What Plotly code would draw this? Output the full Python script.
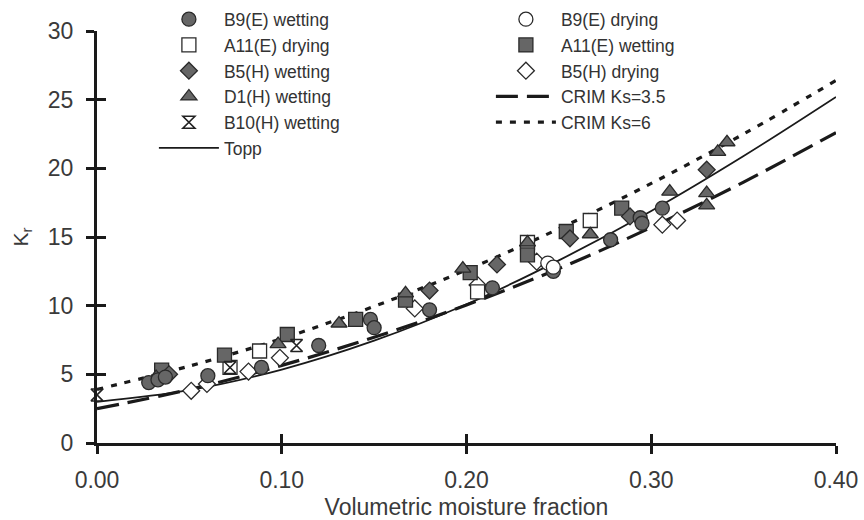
import plotly.graph_objects as go

# ---- model curves ----
curve_x = [0.00, 0.05, 0.10, 0.15, 0.20, 0.25, 0.30, 0.35, 0.40]
topp_k = [3.0, 3.85, 5.35, 7.45, 10.1, 13.3, 16.9, 20.9, 25.2]
crim35_k = [2.5, 3.9, 5.65, 7.7, 10.05, 12.7, 15.7, 19.0, 22.6]
crim6_k = [3.9, 5.6, 7.6, 9.95, 12.6, 15.6, 18.9, 22.5, 26.4]

# ---- measured data ----
b9e_wet_x = [0.028, 0.033, 0.037, 0.060, 0.089, 0.120, 0.148, 0.150, 0.180, 0.214, 0.247, 0.278, 0.294, 0.295, 0.306]
b9e_wet_k = [4.4, 4.6, 4.8, 4.9, 5.5, 7.1, 9.0, 8.4, 9.7, 11.3, 12.5, 14.8, 16.4, 16.0, 17.1]

b9e_dry_x = [0.244, 0.247]
b9e_dry_k = [13.1, 12.8]

a11e_dry_x = [0.072, 0.088, 0.206, 0.233, 0.267]
a11e_dry_k = [5.5, 6.7, 11.0, 14.6, 16.2]

a11e_wet_x = [0.035, 0.069, 0.103, 0.140, 0.167, 0.202, 0.233, 0.254, 0.284]
a11e_wet_k = [5.3, 6.4, 7.9, 9.0, 10.4, 12.4, 13.7, 15.4, 17.1]

b5h_wet_x = [0.039, 0.180, 0.2165, 0.256, 0.2885, 0.330]
b5h_wet_k = [5.0, 11.1, 13.0, 14.9, 16.5, 19.9]

b5h_dry_x = [0.051, 0.0595, 0.082, 0.099, 0.172, 0.206, 0.238, 0.306, 0.314]
b5h_dry_k = [3.8, 4.3, 5.2, 6.2, 9.8, 11.5, 13.2, 15.9, 16.2]

d1h_wet_x = [0.032, 0.098, 0.131, 0.167, 0.198, 0.233, 0.267, 0.310, 0.330, 0.330, 0.336, 0.341]
d1h_wet_k = [4.8, 7.2, 8.7, 10.9, 12.7, 14.6, 15.2, 18.3, 18.2, 17.3, 21.2, 21.9]

b10h_wet_x = [0.000, 0.072, 0.108]
b10h_wet_k = [3.5, 5.5, 7.1]

x_ticks = [0.0, 0.1, 0.2, 0.3, 0.4]
x_ticklabels = ["0.00", "0.10", "0.20", "0.30", "0.40"]
y_ticks = [0, 5, 10, 15, 20, 25, 30]

DARK = "#666666"
EDGE = "#2a2a2a"
AXC = "#1a1a1a"
TXT = "#3a3a3a"
FONT = "Liberation Sans, Arial, sans-serif"

fig = go.Figure()

# curves (drawn first, behind markers)
fig.add_trace(go.Scatter(x=curve_x, y=crim6_k, mode="lines", name="CRIM Ks=6",
                         line=dict(color=AXC, width=3.2, dash="6px,8px", shape="spline"),
                         legendrank=10))
fig.add_trace(go.Scatter(x=curve_x, y=crim35_k, mode="lines", name="CRIM Ks=3.5",
                         line=dict(color=AXC, width=3.2, dash="22px,9px", shape="spline"),
                         legendrank=8))
fig.add_trace(go.Scatter(x=curve_x, y=topp_k, mode="lines", name="Topp",
                         line=dict(color=AXC, width=1.8, shape="spline"),
                         legendrank=11))

def pts(x, y, name, symbol, fill, rank, size=14):
    fig.add_trace(go.Scatter(
        x=x, y=y, mode="markers", name=name, legendrank=rank, cliponaxis=False,
        marker=dict(symbol=symbol, size=size, color=fill,
                    line=dict(color=EDGE, width=1.3))))

pts(b5h_dry_x, b5h_dry_k, "B5(H) drying", "diamond", "white", 6, 13)
pts(a11e_dry_x, a11e_dry_k, "A11(E) drying", "square", "white", 3, 14)
pts(a11e_wet_x, a11e_wet_k, "A11(E) wetting", "square", DARK, 4, 14)
pts(d1h_wet_x, d1h_wet_k, "D1(H) wetting", "triangle-up", DARK, 7, 14)
pts(b5h_wet_x, b5h_wet_k, "B5(H) wetting", "diamond", DARK, 5, 13)
pts(b9e_wet_x, b9e_wet_k, "B9(E) wetting", "circle", DARK, 1, 14)
pts(b9e_dry_x, b9e_dry_k, "B9(E) drying", "circle", "white", 2, 14)
fig.add_trace(go.Scatter(
    x=b10h_wet_x, y=b10h_wet_k, mode="markers", name="B10(H) wetting", legendrank=9,
    cliponaxis=False,
    marker=dict(symbol="hourglass-open", size=12, color="#222222", line=dict(width=1.6))))

axis_common = dict(showgrid=False, zeroline=False, showline=True, linecolor=AXC,
                   linewidth=3, ticks="outside", ticklen=8, tickwidth=3, tickcolor=AXC,
                   automargin=False,
                   tickfont=dict(family=FONT, size=23, color=TXT))

fig.update_layout(
    width=864, height=520,
    margin=dict(l=97, r=28, t=31, b=77, autoexpand=False),
    paper_bgcolor="white", plot_bgcolor="white",
    font=dict(family=FONT, color="#333333"),
    xaxis=dict(range=[0, 0.4], tickvals=x_ticks, ticktext=x_ticklabels,
               ticklabelstandoff=6,
               title=dict(text="Volumetric moisture fraction", standoff=8,
                          font=dict(family=FONT, size=23, color=TXT)),
               **axis_common),
    yaxis=dict(range=[0, 30], tickvals=y_ticks, ticklabelstandoff=8,
               title=dict(text="K<sub>r</sub>", standoff=14,
                          font=dict(family=FONT, size=21, color=TXT)),
               **axis_common),
    xaxis2=dict(overlaying="x", anchor="y", range=[0, 0.4], tickvals=x_ticks[1:],
                ticks="inside", ticklen=9, tickwidth=3, tickcolor=AXC, side="bottom",
                automargin=False,
                showticklabels=False, showline=False, showgrid=False, zeroline=False),
    yaxis2=dict(overlaying="y", anchor="x", range=[0, 30], tickvals=y_ticks, side="left",
                ticks="inside", ticklen=9, tickwidth=3, tickcolor=AXC,
                automargin=False,
                showticklabels=False, showline=False, showgrid=False, zeroline=False),
    legend=dict(orientation="h", x=0.077, xanchor="left", y=1.072, yanchor="top",
                entrywidth=262, entrywidthmode="pixels", itemwidth=60,
                bgcolor="rgba(0,0,0,0)", borderwidth=0,
                font=dict(family=FONT, size=17.5, color="#333333"),
                traceorder="normal"),
)

# invisible trace to activate the secondary (inside-tick) axes
fig.add_trace(go.Scatter(x=[0.2], y=[15], xaxis="x2", yaxis="y2", mode="markers",
                         marker=dict(opacity=0), showlegend=False, hoverinfo="skip"))

fig.write_html("out.html")
